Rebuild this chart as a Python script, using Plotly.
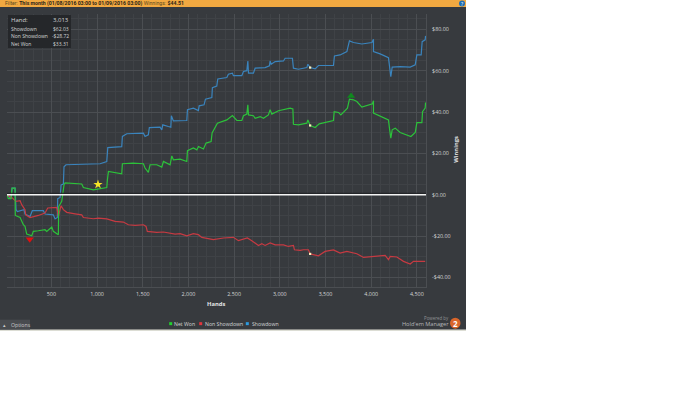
import plotly.graph_objects as go

# ---- data ----
net_hands = [18,28,58,69,102,105,157,193,211,230,285,302,357,430,449,504,521,558,576,580,613,638,649,832,850,959,1106,1113,1124,1270,1277,1394,1507,1525,1561,1580,1653,1708,1726,1799,1818,1835,1909,1982,1989,2054,2092,2109,2164,2193,2248,2259,2317,2420,2481,2530,2584,2602,2639,2650,2657,2711,2730,2785,2821,2875,2894,2913,2985,3113,3143,3149,3204,3296,3307,3332,3387,3431,3587,3595,3642,3668,3715,3740,3762,3806,3843,3898,4014,4025,4025,4098,4189,4200,4215,4230,4263,4317,4391,4435,4482,4500,4555,4562,4591,4595]
net_won = [-0.3,-1.9,-1.9,3.2,3.2,-10.0,-11.0,-14.5,-15.3,-19.0,-19.8,-17.7,-17.4,-16.9,-17.7,-15.6,-17.7,-19.0,-19.3,-5.7,-3.2,4.8,5.7,5.2,3.5,2.4,3.5,7.2,11.3,10.1,15.0,15.3,15.0,12.9,10.8,14.5,14.5,13.4,16.1,14.5,18.8,16.9,17.2,16.1,21.3,22.6,21.7,23.3,22.1,25.0,25.7,29.9,34.6,36.2,38.3,35.9,35.9,38.2,39.0,43.5,38.6,38.2,37.0,37.8,37.0,38.6,41.1,39.0,40.6,41.9,41.5,34.1,33.8,34.6,36.2,33.5,32.5,34.3,35.9,40.2,39.8,38.6,41.1,41.9,46.2,45.9,45.1,42.4,44.0,45.5,39.5,38.2,36.2,32.2,27.4,31.4,32.2,30.1,29.0,28.2,30.1,34.9,34.9,40.2,41.9,44.6]

show_hands = [18,58,69,102,113,127,200,211,266,291,412,430,521,540,565,569,595,606,631,638,660,1033,1106,1117,1270,1277,1325,1507,1525,1561,1572,1689,1708,1719,1780,1807,1813,1835,1982,1989,2054,2109,2117,2171,2186,2256,2262,2310,2321,2420,2437,2481,2492,2584,2602,2639,2650,2657,2711,2730,2839,2886,2894,2905,2949,3040,3058,3138,3149,3204,3296,3307,3332,3387,3423,3587,3598,3660,3734,3762,3806,3898,4008,4025,4025,4098,4189,4200,4215,4230,4317,4427,4482,4500,4547,4558,4591,4595]
showdown = [-0.3,-1.9,3.2,3.2,-7.2,-8.1,-7.2,-9.3,-10.5,-7.7,-7.7,-9.3,-9.7,-11.7,-11.0,-1.9,-1.3,4.8,5.2,13.5,14.5,15.0,16.1,22.8,23.3,28.2,29.5,29.8,28.2,29.0,32.5,32.7,31.4,33.8,33.0,32.7,38.2,35.7,35.9,41.1,41.9,40.7,43.0,43.5,46.2,47.0,51.8,52.6,56.0,56.7,58.3,58.8,57.6,57.6,59.6,60.0,64.7,58.8,58.8,61.2,61.5,62.3,64.7,63.1,64.4,64.7,66.0,66.0,61.2,60.7,61.5,63.1,61.5,60.9,62.5,62.5,67.1,67.6,69.2,74.4,73.6,72.9,73.6,75.2,69.2,68.1,66.3,62.0,57.1,61.7,62.0,61.7,62.8,67.6,67.6,74.0,74.9,76.8]

non_hands = [18,69,113,157,175,211,219,266,357,430,460,558,576,587,606,631,668,759,832,850,959,1014,1106,1197,1288,1342,1416,1507,1536,1550,1653,1726,1780,1854,1909,1982,2054,2109,2146,2273,2383,2492,2547,2645,2693,2766,2803,2839,2894,2949,3040,3094,3149,3160,3222,3259,3313,3332,3423,3496,3587,3660,3734,3843,3916,4025,4098,4153,4189,4208,4281,4354,4427,4463,4591]
non_showdown = [-0.3,-1.4,-3.2,-2.9,-4.8,-7.2,-9.7,-11.0,-10.0,-8.8,-6.4,-6.1,-10.5,-8.8,-5.3,-7.2,-8.5,-9.2,-9.7,-11.0,-11.6,-11.3,-11.7,-12.9,-13.2,-14.5,-14.8,-14.5,-15.3,-17.7,-18.2,-18.0,-18.5,-19.0,-18.8,-19.9,-18.8,-19.3,-20.6,-21.7,-20.9,-20.6,-22.2,-20.9,-22.2,-24.5,-23.7,-24.5,-23.3,-24.2,-24.2,-25.0,-24.5,-26.6,-26.9,-26.6,-26.6,-28.6,-29.5,-27.4,-26.7,-28.2,-27.4,-28.5,-30.3,-29.8,-29.8,-29.3,-31.4,-29.8,-30.1,-32.2,-33.5,-32.2,-32.2]

x_ticks = [500,1000,1500,2000,2500,3000,3500,4000,4500]
x_labels = ["500","1,000","1,500","2,000","2,500","3,000","3,500","4,000","4,500"]
y_ticks = [80,60,40,20,0,-20,-40]
y_labels = ["$80.00","$60.00","$40.00","$20.00","$0.00","-$20.00","-$40.00"]

tip_rows = ["Hand:","Showdown","Non Showdown","Net Won"]
tip_vals = ["3,013","$62.03","-$28.72","$33.31"]

cursor_hand = [3332,3332,3332]
cursor_vals = [61.5,33.5,-28.6]

# ---- styles ----
BG="#373a3e"; GRID="#4b4e52"; MINOR="#3f4246"; TXT="#d4d5d6"
GREEN="#2cc23a"; RED="#c63a42"; BLUE="#3a84bd"
FONT="Open Sans"
L,R,T,B=7,426,14,287.3
W,H=700,394
px=lambda x:(x-L)/(R-L)
py=lambda y:(B-y)/(B-T)

fig=go.Figure()
fig.add_trace(go.Scatter(x=show_hands,y=showdown,mode="lines",name="Showdown",line=dict(color=BLUE,width=1.2)))
fig.add_trace(go.Scatter(x=non_hands,y=non_showdown,mode="lines",name="Non Showdown",line=dict(color=RED,width=1.2)))
fig.add_trace(go.Scatter(x=net_hands,y=net_won,mode="lines",name="Net Won",line=dict(color=GREEN,width=1.2)))
fig.add_trace(go.Scatter(x=cursor_hand,y=cursor_vals,mode="markers",marker=dict(color="#fff4c0",size=2.2,symbol="square")))
fig.add_trace(go.Scatter(x=[1010],y=[5.0],mode="markers",marker=dict(color="#f5e626",size=7,symbol="star")))
fig.add_trace(go.Scatter(x=[263],y=[-21.5],mode="markers",marker=dict(color="#e01010",size=7,symbol="triangle-down")))
fig.add_trace(go.Scatter(x=[3780],y=[47.8],mode="markers",marker=dict(color="#0f8a1e",size=7,symbol="triangle-up")))

shapes=[
 dict(type="rect",xref="paper",yref="paper",x0=px(0),x1=px(466),y0=py(330),y1=py(0),fillcolor=BG,line_width=0,layer="below"),
 dict(type="rect",xref="paper",yref="paper",x0=px(0),x1=px(466),y0=py(7),y1=py(0),fillcolor="#f2a941",line_width=0),
 dict(type="line",xref="paper",yref="paper",x0=px(0),x1=px(466),y0=py(330.5),y1=py(330.5),line=dict(color="#c9cabc",width=1)),
 dict(type="rect",xref="paper",yref="paper",x0=px(0),x1=px(30),y0=py(330),y1=py(320),fillcolor="#484b4f",line_width=0),
 dict(type="rect",xref="paper",yref="paper",x0=px(8),x1=px(71),y0=py(48),y1=py(15),fillcolor="#25272a",line_width=0),
 dict(type="line",xref="paper",yref="y",x0=0,x1=1,y0=0.7,y1=0.7,line=dict(color="#1f2123",width=1)),
 dict(type="line",xref="paper",yref="y",x0=0,x1=1,y0=0,y1=0,line=dict(color="#f4f4f4",width=1.6)),
 dict(type="circle",xref="paper",yref="paper",x0=px(459),x1=px(465),y0=py(6.5),y1=py(0.5),fillcolor="#1f6fb5",line_width=0),
 dict(type="circle",xref="paper",yref="paper",x0=px(450),x1=px(460.5),y0=py(329),y1=py(318),fillcolor="#d9652a",line_width=0),
]
# legend swatches
for sx,c in [(170.7,"#22d02e"),(200.7,"#e0353d"),(247.3,"#2c9be0")]:
    shapes.append(dict(type="rect",xref="paper",yref="paper",x0=px(sx-1.5),x1=px(sx+1.5),y0=py(325.5),y1=py(322.5),fillcolor=c,line_width=0))

def note(x,y,t,size=5.6,color=TXT,anchor="left",family=FONT,**k):
    return dict(xref="paper",yref="paper",x=px(x),y=py(y),text=t,showarrow=False,xanchor=anchor,yanchor="middle",
                borderpad=0,borderwidth=0,font=dict(family=family,size=size,color=color),**k)

ann=[
 note(5,3.5,'<span style="color:#5a4a20">Filter:</span> <b>This month (01/08/2016 03:00 to 01/09/2016 03:00)</b> <span style="color:#5a4a20">Winnings:</span> <b>$44.51</b>',size=5.2,color="#2a2418",family="Roboto"),
 note(462,3.5,"?",size=5,color="#ffffff",anchor="center"),
 note(11,325,"Options",size=5.2,color="#c8c9ca"),
 note(4.5,325,"▴",size=5,color="#c8c9ca",anchor="center"),
 note(174,324.3,"Net Won",size=5.2),
 note(204.5,324.3,"Non Showdown",size=5.2),
 note(251.5,324.3,"Showdown",size=5.2),
 note(449,318.5,"Powered by",size=4.4,color="#8f9193",anchor="right"),
 note(449,324.5,"Hold'em Manager",size=5.6,color="#b6b7b9",anchor="right"),
 note(455.2,323.5,"<b>2</b>",size=8,color="#ffffff",anchor="center"),
 note(216,304,"<b>Hands</b>",size=5.8,color="#e4e5e6",anchor="center"),
 note(456,150,"<b>Winnings</b>",size=5.8,color="#e4e5e6",anchor="center",textangle=-90),
]
for yy,a,b,sz in zip([20.5,29,36.3,44],tip_rows,tip_vals,[6,5,5,5]):
    ann.append(note(10.5,yy,a,size=sz))
    ann.append(note(69,yy,b,size=sz,anchor="right"))

fig.update_layout(
    width=W,height=H,autosize=False,showlegend=False,
    margin=dict(l=L,r=W-R,t=T,b=H-B,pad=0,autoexpand=False),
    paper_bgcolor="#ffffff",plot_bgcolor=BG,
    font=dict(family=FONT,size=5.6,color=TXT),
    shapes=shapes,annotations=ann,
    xaxis=dict(range=[14,4600],tickmode="array",tickvals=x_ticks,ticktext=x_labels,showgrid=True,gridcolor=GRID,gridwidth=1,
               zeroline=False,showline=True,linecolor=GRID,mirror=False,ticks="",ticklabelstandoff=2,
               tickfont=dict(size=5.4,color=TXT,family=FONT),
               minor=dict(tickmode="linear",tick0=0,dtick=100,showgrid=True,gridcolor=MINOR,gridwidth=1,ticks="")),
    yaxis=dict(range=[-44.6,87.4],side="right",tickmode="array",tickvals=y_ticks,ticktext=y_labels,showgrid=True,gridcolor=GRID,gridwidth=1,
               zeroline=False,showline=True,linecolor=GRID,ticks="",ticklabelstandoff=4,
               tickfont=dict(size=5.4,color=TXT,family=FONT),
               minor=dict(tickmode="linear",tick0=0,dtick=5,showgrid=True,gridcolor=MINOR,gridwidth=1,ticks="")),
)
fig.write_html("out.html",config=dict(displayModeBar=False),post_script="document.body.style.margin='0';document.body.style.background='#ffffff';")
